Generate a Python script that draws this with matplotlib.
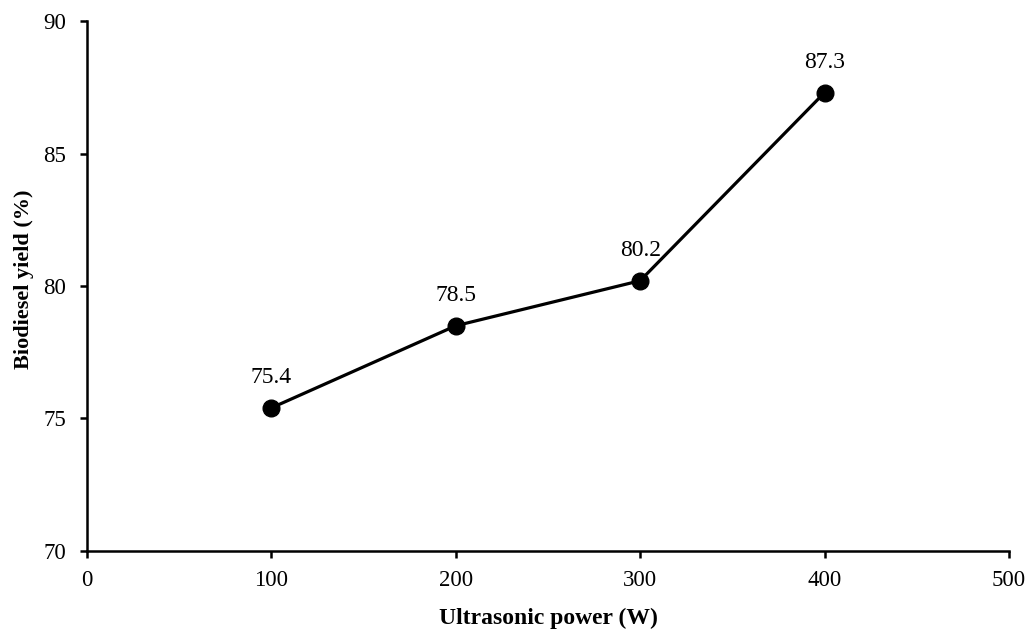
import matplotlib
matplotlib.use('Agg')
import matplotlib.pyplot as plt

power = [100, 200, 300, 400]
yield_pct = [75.4, 78.5, 80.2, 87.3]
labels = ['75.4', '78.5', '80.2', '87.3']

plt.rcParams['font.family'] = ['Liberation Serif', 'DejaVu Serif']

fig = plt.figure(figsize=(10.3, 6.3), dpi=100)
ax = fig.add_axes([0.0845, 0.1255, 0.895, 0.841])

ax.plot(power, yield_pct, color='black', lw=2.3, marker='o', ms=12)
for x, y, t in zip(power, yield_pct, labels):
    ax.annotate(t, (x, y), xytext=(0, 14), textcoords='offset points',
                ha='center', va='bottom', fontsize=17)

ax.set_xlim(0, 500)
ax.set_ylim(70, 90)
ax.set_xticks([0, 100, 200, 300, 400, 500])
ax.set_yticks([70, 75, 80, 85, 90])
ax.spines['top'].set_visible(False)
ax.spines['right'].set_visible(False)
for s in ['left', 'bottom']:
    ax.spines[s].set_linewidth(1.8)
ax.tick_params(direction='out', length=5, width=1.8, labelsize=16.5)
ax.tick_params(axis='x', pad=9)
ax.tick_params(axis='y', pad=10)
ax.set_xlabel('Ultrasonic power (W)', fontsize=17, fontweight='bold', labelpad=12)
ax.set_ylabel('Biodiesel yield (%)', fontsize=16, fontweight='bold')
ax.yaxis.set_label_coords(-0.057, 0.513)

fig.savefig('out.png', dpi=100)
